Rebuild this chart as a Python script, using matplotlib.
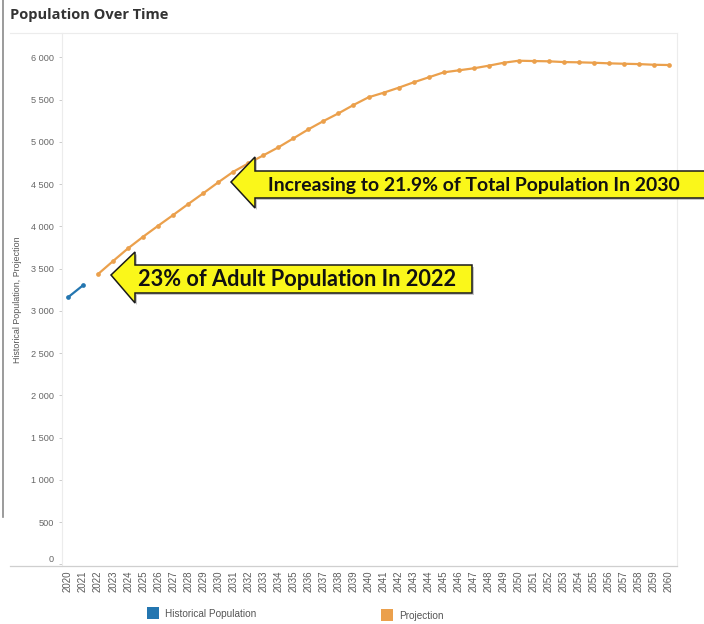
import matplotlib
matplotlib.use('Agg')
import matplotlib.pyplot as plt
from matplotlib.patches import Polygon, Rectangle
from matplotlib.lines import Line2D
import matplotlib.ticker as mticker

W, H = 704, 624

# ---------------- data ----------------
years_hist = [2020, 2021]
hist_values = [3160, 3302]
years_proj = list(range(2022, 2061))
proj_values = [3435, 3589, 3740, 3877, 4007, 4134, 4264, 4391, 4521, 4646,
               4745, 4840, 4935, 5041, 5148, 5246, 5337, 5436, 5527, 5581,
               5640, 5704, 5763, 5822, 5846, 5870, 5901, 5936, 5960, 5956,
               5953, 5944, 5941, 5936, 5929, 5924, 5920, 5912, 5909]
year_labels = [str(y) for y in range(2020, 2061)]
y_ticks = list(range(0, 6001, 500))
series_names = ["Historical Population", "Projection"]
title = "Population Over Time"
y_title = "Historical Population, Projection"
note_1 = "Increasing to 21.9% of Total Population In 2030"
note_2 = "23% of Adult Population In 2022"

blue = '#2476b0'
orange = '#eba04c'
yellow = '#faf71a'


def px(x, y):
    return (x / W, 1 - y / H)


fig = plt.figure(figsize=(W / 100, H / 100), dpi=100)
fig.patch.set_facecolor('white')

ax = fig.add_axes([62 / W, 1 - 566 / H, (677 - 62) / W, (566 - 33) / H])
ax.set_xlim(2019.6, 2060.53)
ax.set_ylim(-20, 6288)

ax.plot(years_proj, proj_values, color=orange, lw=1.6, marker='o', ms=3.4,
        markeredgewidth=0, zorder=3)
ax.plot(years_hist, hist_values, color=blue, lw=1.6, marker='o', ms=3.4,
        markeredgewidth=0, zorder=3)

ax.set_yticks(y_ticks)
ax.yaxis.set_major_formatter(mticker.FuncFormatter(
    lambda v, p: f"{int(v):,}".replace(",", " ")))
ax.set_xticks(list(range(2020, 2061)))
ax.set_xticklabels(year_labels, rotation=90, family='Liberation Sans')
for lab in ax.get_yticklabels():
    lab.set_family('Liberation Sans')
ax.tick_params(axis='x', length=0, pad=3.5, labelsize=7, labelcolor='#5a5a5a')
ax.tick_params(axis='y', length=2.5, width=0.7, color='#cccccc', pad=3.5,
               labelsize=6.6, labelcolor='#666666')
ax.yaxis.get_major_ticks()[0].label1.set_verticalalignment('bottom')

for s in ['left', 'right', 'top']:
    ax.spines[s].set_color('#ececec')
    ax.spines[s].set_linewidth(0.8)
ax.spines['bottom'].set_visible(False)

# axis base line spanning into the label area (Tableau style)
fig.add_artist(Line2D([10 / W, 677 / W], [1 - 566 / H, 1 - 566 / H],
                      color='#cfcfcf', lw=0.9))
fig.add_artist(Line2D([10 / W, 62 / W], [1 - 33 / H, 1 - 33 / H],
                      color='#ececec', lw=0.8))
# scanned page border on the left
fig.add_artist(Line2D([2.5 / W, 2.5 / W], [1, 1 - 517 / H],
                      color='#8a8a8a', lw=1.2))

# titles
fig.text(*px(10, 15), title, fontsize=10.5, fontweight='bold', family='Open Sans',
         color='#333333', va='center', ha='left')
fig.text(*px(18, 300), y_title, fontsize=6.4, family='Liberation Sans',
         color='#555555', rotation=90, va='center', ha='center')

# legend
fig.add_artist(Rectangle(px(147, 619), 12 / W, 12 / H, transform=fig.transFigure,
                         facecolor=blue, edgecolor='none'))
fig.text(*px(165, 614), series_names[0], fontsize=7.2, family='Liberation Sans',
         color='#555555', va='center', ha='left')
fig.add_artist(Rectangle(px(381, 621), 12 / W, 12 / H, transform=fig.transFigure,
                         facecolor=orange, edgecolor='none'))
fig.text(*px(399, 616), series_names[1], fontsize=7.2, family='Liberation Sans',
         color='#555555', va='center', ha='left')


# callout arrows
def arrow(tip_x, tip_y, head_x, head_top, head_bot, body_top, body_bot, right_x):
    pts = [(tip_x, tip_y), (head_x, head_top), (head_x, body_top),
           (right_x, body_top), (right_x, body_bot), (head_x, body_bot),
           (head_x, head_bot)]
    shadow = Polygon([px(x + 2, y + 2) for x, y in pts], closed=True,
                     transform=fig.transFigure, facecolor='#9a9a9a',
                     edgecolor='none', alpha=0.55, zorder=5)
    poly = Polygon([px(x, y) for x, y in pts], closed=True,
                   transform=fig.transFigure, facecolor=yellow,
                   edgecolor='#1a1a1a', lw=1.1, zorder=6)
    fig.add_artist(shadow)
    fig.add_artist(poly)


arrow(231, 182, 255, 157, 208, 171, 198, 712)
arrow(111, 275, 135, 252, 303, 265, 293, 472)


def fit_text(x0, x1, base_y, s, size):
    t = fig.text(*px(x0, base_y), s, fontsize=size, fontweight='bold',
                 family='Lato', color='#111111', va='baseline', ha='left',
                 zorder=7)
    fig.canvas.draw()
    bb = t.get_window_extent()
    t.set_fontsize(size * (x1 - x0) / bb.width)
    return t


fit_text(268, 680, 191.5, note_1, 13)
fit_text(138, 458, 286, note_2, 14)

fig.savefig('out.png', dpi=100, facecolor='white')
